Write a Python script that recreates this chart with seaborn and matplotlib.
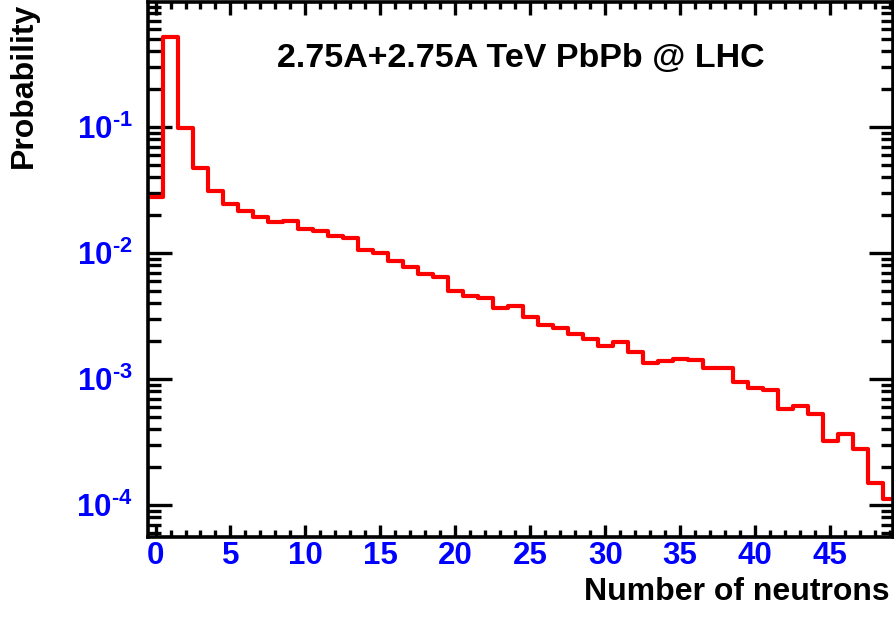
import numpy as np
import pandas as pd
import matplotlib
matplotlib.use('Agg')
import matplotlib.pyplot as plt
import matplotlib.ticker as mticker
import seaborn as sns

# ---------------- DATA ----------------
neutrons = list(range(0, 50))
probability = [
    0.028, 0.52, 0.099, 0.047, 0.0313, 0.0245, 0.0217, 0.0194, 0.0178, 0.0180,
    0.0155, 0.0150, 0.0137, 0.0131, 0.0106, 0.0101, 0.00865, 0.00778, 0.00677, 0.00641,
    0.00502, 0.00456, 0.00437, 0.00368, 0.00380, 0.00312, 0.00267, 0.00255, 0.00230, 0.00207,
    0.00183, 0.00197, 0.00165, 0.00133, 0.00139, 0.00145, 0.00142, 0.00123, 0.00122, 0.000941,
    0.000853, 0.000818, 0.000578, 0.000610, 0.000528, 0.000322, 0.000366, 0.000278, 0.000150, 0.000111,
]
x_major_ticks = [0, 5, 10, 15, 20, 25, 30, 35, 40, 45]
title_text = "2.75A+2.75A TeV PbPb @ LHC"

df = pd.DataFrame({"neutrons": neutrons, "probability": probability})

# ---------------- STYLE ----------------
sns.set_style('ticks')
plt.rcParams['font.family'] = ['Liberation Sans', 'DejaVu Sans']
plt.rcParams['font.weight'] = 'bold'
plt.rcParams['text.color'] = 'black'
plt.rcParams['axes.labelcolor'] = 'black'
plt.rcParams['axes.unicode_minus'] = False
plt.rcParams['mathtext.fontset'] = 'custom'
plt.rcParams['mathtext.bf'] = 'Liberation Sans:bold'
plt.rcParams['mathtext.rm'] = 'Liberation Sans:bold'
plt.rcParams['mathtext.it'] = 'Liberation Sans:bold'
plt.rcParams['mathtext.sf'] = 'Liberation Sans:bold'


def log_label(val, pos):
    # ROOT-style 10^n labels, bold, short hyphen in the exponent
    exp = int(round(np.log10(val)))
    sign = '\u2010' if exp < 0 else ''
    return r'$\mathbf{10^{%s%d}}$' % (sign, abs(exp))


fig = plt.figure(figsize=(8.95, 6.18), dpi=100)
ax = fig.add_axes([0.1654, 0.131, 0.8324, 0.8657])

sns.histplot(data=df, x="neutrons", weights="probability", discrete=True,
             element="step", fill=False, color="red", linewidth=3, ax=ax)

ax.set_yscale('log')
ax.set_xlim(-0.5, 49.2)
ax.set_ylim(5.57e-5, 0.985)

# ticks: inward on all four sides, ROOT-like
ax.xaxis.set_major_locator(mticker.FixedLocator(x_major_ticks))
ax.xaxis.set_minor_locator(mticker.MultipleLocator(1))
ax.yaxis.set_major_locator(mticker.LogLocator(base=10))
ax.yaxis.set_major_formatter(mticker.FuncFormatter(log_label))
ax.yaxis.set_minor_locator(mticker.LogLocator(base=10, subs=np.arange(2, 10)))
ax.yaxis.set_minor_formatter(mticker.NullFormatter())

ax.tick_params(which='both', direction='in', top=True, right=True, width=2.4, color='black')
ax.tick_params(axis='x', which='major', length=9, labelsize=22.5, labelcolor='blue', pad=3)
ax.tick_params(axis='x', which='minor', length=5)
ax.tick_params(axis='y', which='major', length=17, labelsize=22.5, labelcolor='blue', pad=11)
ax.tick_params(axis='y', which='minor', length=9)
for lab in ax.get_xticklabels() + ax.get_yticklabels():
    lab.set_fontweight('bold')

for sp in ax.spines.values():
    sp.set_linewidth(2.6)
    sp.set_color('black')

ax.set_xlabel("Number of neutrons", fontsize=23, fontweight='bold', loc='right')
ax.xaxis.set_label_coords(0.996, -0.075)
ax.set_ylabel("Probability", fontsize=23, fontweight='bold', loc='top')
ax.yaxis.set_label_coords(-0.147, 0.998)

ax.text(0.500, 0.895, title_text, transform=ax.transAxes, ha='center', va='center',
        fontsize=24.5, fontweight='bold', color='black')

fig.savefig("out.png", dpi=100)
